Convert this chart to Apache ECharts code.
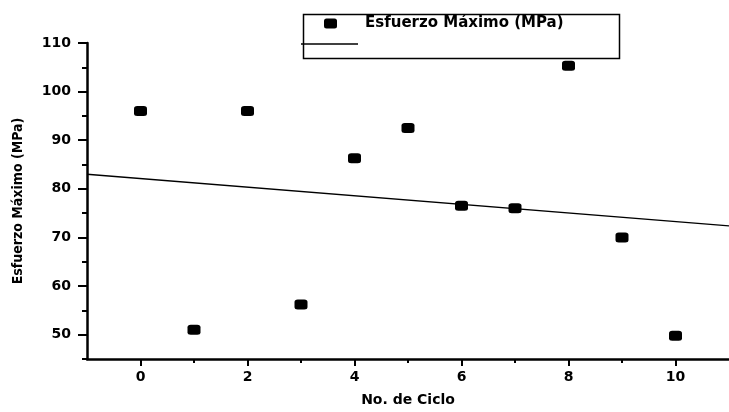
<!DOCTYPE html>
<html>
<head>
<meta charset="utf-8">
<style>html,body{margin:0;padding:0;background:#fff;}#c{width:729px;height:412px;}</style>
<script src="https://cdn.jsdelivr.net/npm/echarts@6/dist/echarts.min.js"></script>
</head>
<body>
<div id="c"></div>
<script>
const cycles = [0, 1, 2, 3, 4, 5, 6, 7, 8, 9, 10];
const stress = [96, 51, 96, 56.2, 86.3, 92.5, 76.5, 76, 105.3, 70, 49.8];
const fitX = [-1, 11];
const fitY = [83.0, 72.4];
const xMajor = [0, 2, 4, 6, 8, 10];
const xMinor = [1, 3, 5, 7, 9];
const yMajor = [50, 60, 70, 80, 90, 100, 110];
const yMinor = [45, 55, 65, 75, 85, 95, 105];
const seriesName = 'Esfuerzo Máximo (MPa)';
const fitName = 'Ajuste';

const tickFont = {color: '#000', fontFamily: 'DejaVu Sans', fontWeight: 'bold', fontSize: 14};
const chart = echarts.init(document.getElementById('c'));
const lineStyle = {color: '#000', width: 2.5};
chart.setOption({
  animation: false,
  backgroundColor: '#fff',
  grid: {left: 87, top: 43, right: -5, bottom: 48},
  xAxis: [{
    type: 'value', min: -1, max: 11,
    axisLine: {show: true, onZero: false, lineStyle: lineStyle},
    axisTick: {show: true, inside: false, length: 7, lineStyle: {color: '#000', width: 2}, customValues: xMajor},
    axisLabel: Object.assign({margin: 11, customValues: xMajor}, tickFont),
    splitLine: {show: false},
    name: 'No. de Ciclo', nameLocation: 'middle', nameGap: 34,
    nameTextStyle: {color: '#000', fontFamily: 'DejaVu Sans', fontWeight: 'bold', fontSize: 14}
  }, {
    type: 'value', min: -1, max: 11, position: 'bottom',
    axisLine: {show: false, onZero: false},
    axisTick: {show: true, length: 4, lineStyle: {color: '#000', width: 2}, customValues: xMinor},
    axisLabel: {show: false, customValues: xMinor},
    splitLine: {show: false}
  }],
  yAxis: [{
    type: 'value', min: 45, max: 110,
    axisLine: {show: true, onZero: false, lineStyle: lineStyle},
    axisTick: {show: true, length: 9, lineStyle: {color: '#000', width: 2}, customValues: yMajor},
    axisLabel: Object.assign({margin: 16, customValues: yMajor}, tickFont),
    splitLine: {show: false},
    name: 'Esfuerzo Máximo (MPa)', nameLocation: 'middle', nameGap: 62, nameRotate: 90,
    nameTextStyle: {color: '#000', fontFamily: "'DejaVu Sans Condensed', 'Liberation Sans', sans-serif", fontWeight: 'bold', fontSize: 14}
  }, {
    type: 'value', min: 45, max: 110, position: 'left',
    axisLine: {show: false, onZero: false},
    axisTick: {show: true, length: 5, lineStyle: {color: '#000', width: 2}, customValues: yMinor},
    axisLabel: {show: false, customValues: yMinor},
    splitLine: {show: false}
  }],
  legend: [{
    data: [seriesName], left: 324, top: 16, orient: 'vertical',
    itemWidth: 13, itemHeight: 10, padding: 0, selectedMode: false,
    textStyle: {color: '#000', fontFamily: 'DejaVu Sans', fontWeight: 'bold', fontSize: 15, padding: [0, 0, 0, 23]}
  }, {
    data: [{name: fitName, icon: 'rect'}], left: 301, top: 42, orient: 'vertical',
    itemWidth: 57, itemHeight: 1.5, padding: 0, selectedMode: false,
    formatter: function () { return ' '; },
    textStyle: {fontSize: 4}
  }],
  graphic: [{
    type: 'rect', left: 301, top: 12, z: 100,
    shape: {width: 316, height: 44},
    style: {fill: 'none', stroke: '#000', lineWidth: 1.5}
  }],
  series: [{
    name: seriesName, type: 'scatter',
    symbol: 'roundRect', symbolSize: [13, 10],
    itemStyle: {color: '#000', opacity: 1},
    data: cycles.map((c, i) => [c, stress[i]]),
    z: 3
  }, {
    name: fitName, type: 'line', showSymbol: false, symbol: 'none',
    lineStyle: {color: '#000', width: 1.3},
    itemStyle: {color: '#000'},
    data: fitX.map((x, i) => [x, fitY[i]]),
    z: 2
  }]
});
</script>
</body>
</html>
